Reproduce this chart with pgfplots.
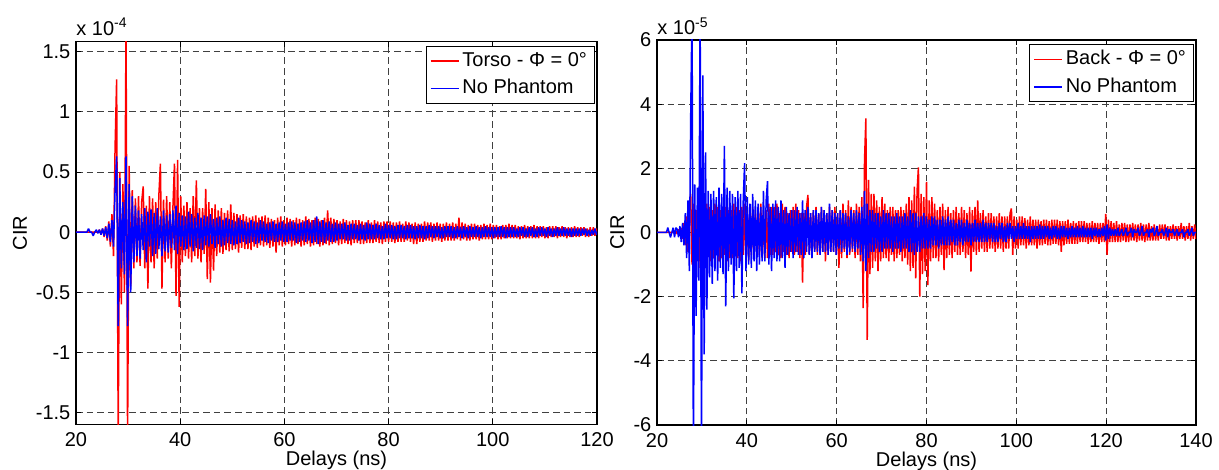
\documentclass[border=0pt]{standalone}
\usepackage{fontspec}
\setmainfont{Liberation Sans}
\usepackage{pgfplots}
\pgfplotsset{compat=1.18}
\usepackage{pgfplotstable}

% values in units of 1e-4 (left) and 1e-5 (right); sampling every 0.3 ns from 20 ns
\pgfplotstableread[row sep=\\]{y\\
0\\0\\0\\0\\0\\0\\0\\0\\0\\0\\
0\\0\\0\\0\\0\\0.02\\-0.02\\0.03\\-0.04\\0.05\\
-0.07\\0.09\\-0.12\\0.15\\-0.2\\0.7\\1.27\\-1.7\\0.5\\-0.6\\
0.4\\-0.5\\1.7\\-1.7\\0.55\\-0.45\\0.35\\-0.3\\0.28\\-0.25\\
0.3\\-0.28\\0.25\\0.38\\-0.3\\0.22\\-0.47\\0.3\\-0.25\\0.28\\
-0.3\\0.25\\-0.22\\0.3\\0.57\\-0.47\\0.27\\-0.25\\0.3\\-0.22\\
0.25\\-0.3\\0.2\\0.57\\-0.53\\0.6\\-0.62\\0.3\\-0.25\\0.22\\
-0.2\\0.25\\-0.22\\0.2\\-0.25\\0.3\\-0.2\\0.43\\-0.22\\0.2\\
-0.25\\0.2\\-0.18\\0.36\\-0.39\\0.25\\-0.42\\0.2\\-0.32\\0.23\\
-0.2\\0.18\\-0.17\\0.2\\-0.18\\0.16\\-0.15\\0.18\\-0.16\\0.23\\
-0.15\\0.16\\-0.14\\0.15\\-0.17\\0.14\\-0.13\\0.15\\-0.14\\0.13\\
-0.14\\0.12\\-0.15\\0.13\\-0.12\\0.14\\-0.13\\0.12\\-0.11\\0.13\\
-0.12\\0.14\\-0.11\\0.12\\-0.13\\0.11\\-0.12\\0.1\\-0.17\\0.12\\
-0.11\\0.13\\-0.12\\0.1\\-0.11\\0.12\\-0.1\\0.11\\-0.12\\0.1\\
-0.11\\0.12\\-0.1\\0.11\\-0.12\\0.1\\-0.11\\0.13\\-0.1\\0.11\\
-0.12\\0.1\\-0.11\\0.12\\-0.1\\0.11\\-0.12\\0.1\\-0.11\\0.12\\
-0.1\\0.18\\-0.11\\0.12\\-0.1\\0.11\\-0.09\\0.1\\-0.11\\0.09\\
-0.1\\0.11\\-0.09\\0.1\\-0.1\\0.09\\-0.11\\0.1\\-0.09\\0.1\\
-0.09\\0.1\\-0.1\\0.09\\-0.1\\0.08\\-0.09\\0.1\\-0.09\\0.08\\
-0.09\\0.1\\-0.08\\0.09\\-0.09\\0.08\\-0.1\\0.09\\-0.08\\0.09\\
-0.08\\0.09\\-0.08\\0.08\\-0.09\\0.08\\-0.08\\0.09\\-0.08\\0.07\\
-0.08\\0.09\\-0.07\\0.08\\-0.08\\0.07\\-0.1\\0.08\\-0.1\\0.07\\
-0.08\\0.07\\-0.08\\0.09\\-0.07\\0.08\\-0.07\\0.08\\-0.08\\0.07\\
-0.07\\0.08\\-0.07\\0.07\\-0.08\\0.07\\-0.07\\0.08\\-0.07\\0.07\\
-0.07\\0.08\\-0.07\\0.07\\-0.06\\0.12\\-0.07\\0.08\\-0.06\\0.07\\
-0.07\\0.06\\-0.07\\0.07\\-0.06\\0.07\\-0.06\\0.06\\-0.07\\0.06\\
-0.06\\0.07\\-0.06\\0.06\\-0.06\\0.07\\-0.06\\0.06\\-0.05\\0.06\\
-0.06\\0.05\\-0.06\\0.06\\-0.05\\0.06\\-0.05\\0.07\\-0.05\\0.06\\
-0.05\\0.06\\-0.05\\0.05\\-0.06\\0.05\\-0.05\\0.06\\-0.05\\0.05\\
-0.05\\0.05\\-0.05\\0.06\\-0.05\\0.05\\-0.05\\0.05\\-0.04\\0.05\\
-0.05\\0.04\\-0.05\\0.05\\-0.04\\0.05\\-0.04\\0.05\\-0.05\\0.04\\
-0.04\\0.05\\-0.04\\0.04\\-0.05\\0.04\\-0.04\\0.04\\-0.04\\0.05\\
-0.04\\0.04\\-0.04\\0.04\\-0.03\\0.04\\-0.04\\0.03\\-0.04\\0.04\\
-0.03\\0.04\\-0.03\\0.03\\-0.02\\
}\leftred

\pgfplotstableread[row sep=\\]{y\\
0\\0\\0\\0\\0\\0\\0\\0\\0.03\\0\\
0\\-0.03\\0\\0.02\\-0.01\\0.02\\-0.02\\0.03\\-0.03\\0.04\\
-0.05\\0.07\\-0.08\\0.1\\-0.12\\0.35\\0.63\\-0.78\\0.45\\-0.3\\
0.25\\-0.35\\0.63\\-0.78\\0.4\\-0.5\\0.3\\-0.25\\0.22\\-0.2\\
0.18\\-0.22\\0.15\\-0.15\\0.2\\-0.25\\0.17\\-0.12\\0.19\\-0.2\\
0.16\\-0.18\\0.2\\-0.14\\0.13\\-0.2\\0.18\\-0.16\\0.14\\-0.17\\
0.15\\-0.13\\0.18\\-0.15\\0.22\\-0.18\\0.16\\-0.12\\0.14\\-0.15\\
0.13\\-0.14\\0.17\\-0.12\\0.15\\-0.16\\0.12\\-0.13\\0.16\\-0.14\\
0.12\\-0.15\\0.14\\-0.11\\0.13\\-0.12\\0.15\\-0.1\\0.11\\-0.13\\
0.12\\-0.1\\0.13\\-0.12\\0.1\\-0.11\\0.12\\-0.09\\0.11\\-0.1\\
0.1\\-0.11\\0.09\\-0.1\\0.12\\-0.09\\0.1\\-0.08\\0.09\\-0.1\\
0.08\\-0.09\\0.1\\-0.08\\0.09\\-0.1\\0.08\\-0.09\\0.1\\-0.07\\
0.09\\-0.08\\0.07\\-0.09\\0.08\\-0.07\\0.09\\-0.08\\0.07\\-0.08\\
0.08\\-0.07\\0.09\\-0.08\\0.07\\-0.08\\0.08\\-0.07\\0.09\\-0.07\\
0.08\\-0.09\\0.07\\-0.08\\0.08\\-0.07\\0.09\\-0.08\\0.1\\-0.07\\
0.08\\-0.09\\0.1\\-0.08\\0.13\\-0.1\\0.09\\-0.08\\0.1\\-0.09\\
0.08\\-0.07\\0.09\\-0.08\\0.07\\-0.08\\0.08\\-0.07\\0.07\\-0.06\\
0.07\\-0.06\\0.08\\-0.07\\0.06\\-0.07\\0.07\\-0.06\\0.07\\-0.06\\
0.06\\-0.07\\0.07\\-0.06\\0.06\\-0.07\\0.08\\-0.06\\0.07\\-0.06\\
0.06\\-0.06\\0.07\\-0.05\\0.06\\-0.06\\0.05\\-0.06\\0.07\\-0.05\\
0.06\\-0.05\\0.06\\-0.06\\0.05\\-0.06\\0.06\\-0.05\\0.06\\-0.05\\
0.05\\-0.06\\0.06\\-0.05\\0.06\\-0.05\\0.05\\-0.06\\0.05\\-0.05\\
0.06\\-0.05\\0.05\\-0.06\\0.05\\-0.05\\0.06\\-0.04\\0.05\\-0.05\\
0.05\\-0.04\\0.05\\-0.05\\0.04\\-0.05\\0.05\\-0.04\\0.05\\-0.04\\
0.05\\-0.05\\0.04\\-0.05\\0.05\\-0.04\\0.04\\-0.05\\0.05\\-0.04\\
0.04\\-0.05\\0.05\\-0.04\\0.04\\-0.04\\0.05\\-0.04\\0.04\\-0.05\\
0.04\\-0.04\\0.05\\-0.04\\0.04\\-0.04\\0.04\\-0.05\\0.04\\-0.04\\
0.04\\-0.04\\0.05\\-0.04\\0.04\\-0.05\\0.04\\-0.04\\0.04\\-0.04\\
0.04\\-0.04\\0.03\\-0.04\\0.04\\-0.03\\0.04\\-0.04\\0.03\\-0.04\\
0.04\\-0.03\\0.04\\-0.04\\0.03\\-0.04\\0.04\\-0.03\\0.04\\-0.03\\
0.03\\-0.04\\0.04\\-0.03\\0.03\\-0.04\\0.03\\-0.03\\0.04\\-0.03\\
0.03\\-0.03\\0.04\\-0.03\\0.03\\-0.03\\0.03\\-0.04\\0.03\\-0.03\\
0.03\\-0.03\\0.03\\-0.03\\0.03\\-0.02\\0.03\\-0.03\\0.02\\-0.03\\
0.02\\-0.02\\0.03\\-0.02\\0.01\\
}\leftblue

\pgfplotstableread[row sep=\\]{y\\
0\\0\\0\\0\\0\\0\\0\\0\\0\\0\\
0\\0\\0\\0\\0.05\\-0.05\\0.1\\-0.1\\0.15\\-0.2\\
0.3\\-0.4\\0.5\\-0.6\\0.8\\1.2\\-1.0\\0.9\\-0.8\\0.7\\
-0.9\\1.0\\-1.1\\0.8\\-0.9\\0.7\\-0.8\\0.9\\-0.7\\0.8\\
-0.9\\0.7\\-0.8\\0.9\\-0.7\\0.8\\-0.9\\0.7\\-0.8\\0.8\\
-0.7\\0.8\\-0.9\\0.7\\-0.8\\0.7\\-0.8\\0.9\\-0.7\\0.8\\
-0.8\\0.7\\-0.9\\0.8\\-0.7\\0.9\\-0.8\\0.7\\-0.9\\0.8\\
-0.7\\0.8\\-0.8\\0.7\\-0.6\\0.8\\-0.7\\0.9\\-0.8\\0.7\\
-0.8\\0.7\\-0.8\\0.9\\-0.7\\0.8\\-0.7\\0.8\\-0.6\\0.9\\
-0.7\\0.6\\-0.8\\0.9\\-0.6\\0.8\\-0.7\\0.6\\-0.8\\0.7\\
-0.6\\0.8\\-0.7\\0.9\\-0.6\\0.7\\-0.8\\0.6\\-1.56\\0.6\\
-0.7\\0.8\\1.17\\-0.7\\0.6\\-0.8\\0.7\\-0.6\\0.8\\-0.7\\
0.6\\-0.7\\0.8\\-0.6\\0.7\\-0.9\\0.6\\-0.7\\0.8\\-0.6\\
0.7\\-0.6\\0.8\\-0.7\\0.6\\-1.1\\0.7\\-0.8\\0.9\\-0.6\\
0.7\\-0.8\\1.0\\-0.7\\0.8\\-0.6\\0.7\\-0.8\\0.9\\-0.7\\
0.8\\-0.9\\1.1\\-2.36\\2.24\\3.56\\-3.35\\1.64\\-1.3\\1.2\\
-1.1\\1.2\\-0.9\\1.0\\-1.2\\0.8\\-0.9\\1.1\\-0.8\\0.9\\
-0.8\\0.7\\-0.9\\0.8\\-0.7\\0.8\\-0.9\\0.7\\-0.8\\0.7\\
-0.7\\0.8\\-0.9\\0.7\\-0.8\\0.9\\-1.0\\1.1\\-1.2\\1.0\\
-1.1\\1.43\\-1.43\\1.3\\2.03\\-2.0\\1.2\\-1.3\\1.1\\-1.2\\
1.58\\-1.64\\1.0\\-0.9\\1.1\\-0.8\\0.9\\-0.8\\0.7\\-0.9\\
0.8\\-0.7\\0.9\\-1.17\\0.7\\-0.8\\0.8\\-0.7\\0.6\\-0.8\\
0.7\\-0.6\\0.8\\-0.7\\0.6\\-0.7\\0.8\\-0.6\\0.7\\-0.8\\
0.6\\-0.7\\0.8\\-1.22\\0.7\\-0.6\\0.8\\-0.7\\1.0\\-0.6\\
0.6\\-0.5\\0.7\\-0.6\\0.5\\-0.6\\0.6\\-0.5\\0.6\\-0.5\\
0.5\\-0.6\\0.5\\-0.5\\0.6\\-0.5\\0.5\\-0.6\\0.5\\-0.5\\
0.5\\-0.5\\0.6\\0.75\\-0.7\\0.5\\-0.5\\0.4\\-0.5\\0.5\\
-0.4\\0.5\\-0.4\\0.45\\-0.5\\0.4\\-0.4\\0.5\\-0.4\\0.4\\
-0.4\\0.4\\-0.5\\0.4\\-0.4\\0.35\\-0.4\\0.4\\-0.35\\0.4\\
-0.4\\0.35\\-0.4\\0.4\\-0.35\\0.4\\-0.35\\0.4\\-0.4\\0.35\\
-0.6\\0.35\\-0.4\\0.35\\-0.35\\0.4\\-0.35\\0.3\\-0.35\\0.35\\
-0.35\\0.3\\-0.35\\0.35\\-0.3\\0.35\\-0.3\\0.35\\-0.3\\0.3\\
-0.35\\0.3\\-0.3\\0.35\\-0.3\\0.3\\-0.3\\0.3\\-0.35\\0.3\\
-0.3\\0.3\\-0.3\\0.58\\-0.7\\0.4\\-0.3\\0.35\\-0.3\\0.3\\
-0.3\\0.35\\-0.3\\0.25\\-0.3\\0.3\\-0.25\\0.3\\-0.3\\0.25\\
-0.3\\0.25\\-0.25\\0.3\\-0.25\\0.25\\-0.3\\0.25\\-0.25\\0.3\\
-0.25\\0.25\\-0.3\\0.25\\-0.25\\0.3\\-0.25\\0.2\\-0.25\\0.25\\
-0.25\\0.2\\-0.25\\0.25\\-0.2\\0.25\\-0.2\\0.25\\-0.25\\0.2\\
-0.25\\0.2\\-0.2\\0.25\\-0.2\\0.2\\-0.25\\0.2\\-0.2\\0.3\\
-0.2\\0.2\\-0.25\\0.2\\-0.2\\0.3\\-0.25\\0.2\\-0.2\\0.25\\
-0.2\\
}\rightred

\pgfplotstableread[row sep=\\]{y\\
0\\0\\0\\0\\0\\0\\0\\0\\0.15\\0\\
-0.15\\0\\0.15\\-0.15\\0.15\\0.1\\-0.15\\0.2\\-0.3\\0.3\\
-0.4\\0.6\\-0.8\\1.0\\-1.2\\3.6\\7\\-7\\1.5\\-2.6\\
1.4\\-1.5\\7\\-7\\4.9\\-3.8\\2.5\\-2.4\\1.3\\-1.4\\
1.2\\-1.6\\1.3\\-1.2\\1.1\\-1.5\\1.4\\-1.1\\1.2\\-1.3\\
2.7\\-2.3\\1.4\\-1.2\\1.3\\-1.0\\1.2\\-2.05\\1.1\\-1.2\\
1.3\\-1.1\\1.2\\-1.9\\1.0\\2.16\\-1.2\\1.1\\-1.0\\0.9\\
-1.1\\1.2\\-0.9\\1.0\\-1.2\\0.9\\-1.0\\0.8\\-0.9\\1.3\\
-0.9\\1.0\\1.6\\-1.0\\0.8\\-1.2\\0.9\\-0.8\\1.0\\-0.9\\
0.8\\-0.9\\1.0\\-0.8\\0.7\\-1.1\\0.8\\-0.7\\0.6\\-0.6\\
0.7\\-0.8\\0.7\\-0.6\\0.8\\-0.7\\0.6\\-0.7\\1.0\\-0.8\\
0.7\\-0.6\\0.8\\-0.7\\0.6\\-0.8\\0.7\\-0.6\\0.7\\-0.6\\
0.6\\-0.7\\0.8\\-0.6\\0.7\\-0.6\\0.6\\-0.7\\0.9\\-0.6\\
0.7\\-0.6\\0.6\\-0.7\\0.6\\-0.5\\0.7\\-0.6\\0.6\\-0.5\\
0.6\\-0.7\\0.5\\-0.6\\0.7\\-0.5\\0.6\\-0.6\\0.7\\-0.5\\
0.6\\-0.7\\0.8\\-0.9\\1.3\\-1.2\\0.9\\-0.8\\0.7\\-0.6\\
0.7\\-0.6\\0.6\\-0.5\\0.6\\-0.6\\0.5\\-0.6\\0.7\\-0.5\\
0.6\\-0.5\\0.6\\-0.5\\0.5\\-0.6\\0.5\\-0.5\\0.6\\-0.5\\
0.5\\-0.6\\0.5\\-0.5\\0.6\\-0.5\\0.5\\-0.6\\0.7\\-0.6\\
0.6\\-0.7\\0.6\\-0.6\\0.5\\-0.6\\0.5\\-0.5\\0.6\\-0.5\\
0.5\\-0.5\\0.4\\-0.5\\0.5\\-0.4\\0.5\\-0.4\\0.4\\-0.5\\
0.4\\-0.4\\0.5\\-0.4\\0.4\\-0.4\\0.5\\-0.4\\0.4\\-0.3\\
0.4\\-0.4\\0.3\\-0.4\\0.4\\-0.3\\0.4\\-0.4\\0.3\\-0.3\\
0.4\\-0.3\\0.3\\-0.4\\0.3\\-0.3\\0.4\\-0.3\\0.3\\-0.3\\
0.3\\-0.3\\0.4\\-0.3\\0.3\\-0.3\\0.3\\-0.2\\0.3\\-0.3\\
0.3\\-0.3\\0.2\\-0.3\\0.3\\-0.2\\0.3\\-0.3\\0.2\\-0.3\\
0.3\\-0.2\\0.3\\-0.2\\0.2\\-0.3\\0.2\\-0.2\\0.3\\-0.2\\
0.2\\-0.2\\0.3\\-0.2\\0.2\\-0.2\\0.2\\-0.3\\0.2\\-0.2\\
0.2\\-0.2\\0.2\\-0.2\\0.25\\-0.2\\0.2\\-0.2\\0.2\\-0.15\\
0.2\\-0.2\\0.15\\-0.2\\0.2\\-0.15\\0.2\\-0.2\\0.15\\-0.2\\
0.2\\-0.15\\0.2\\-0.15\\0.15\\-0.2\\0.15\\-0.15\\0.2\\-0.15\\
0.15\\-0.15\\0.2\\-0.15\\0.15\\-0.15\\0.2\\-0.15\\0.15\\-0.15\\
0.15\\-0.15\\0.15\\-0.2\\0.15\\-0.1\\0.15\\-0.15\\0.1\\-0.15\\
0.15\\-0.1\\0.2\\-0.25\\0.25\\-0.2\\0.15\\-0.1\\0.1\\-0.1\\
0.1\\-0.1\\0.15\\-0.1\\0\\0.1\\-0.1\\0\\0.15\\-0.1\\
0\\0\\0.15\\-0.15\\0.1\\0\\0\\0.15\\-0.1\\0\\
0.2\\-0.1\\0\\0\\0.1\\-0.15\\0.1\\0\\0.15\\-0.1\\
0\\0.2\\-0.1\\0\\0\\0.1\\-0.1\\0\\0.15\\-0.15\\
0.1\\0\\0\\0.1\\-0.1\\0\\0.1\\-0.1\\0\\0\\
0.1\\-0.15\\0\\0\\0.1\\-0.1\\0\\0.15\\-0.1\\0\\
0\\
}\rightblue

\pgfplotsset{
  cir/.style={
    scale only axis,
    anchor=north west,
    axis line style={line width=0.6pt},
    tick align=inside,
    major tick length=2.5pt,
    every tick/.style={black,line width=0.5pt},
    grid=major,
    major grid style={black!75, line width=0.5pt, dash pattern=on 3.3pt off 2pt},
    /pgf/number format/assume math mode=true,
    tick label style={font=\fontsize{10}{12}\selectfont},
    xticklabel style={yshift=-0.6pt},
    yticklabel style={xshift=0.7pt},
    every axis x label/.style={at={(axis description cs:0.5,0)},anchor=center,yshift=-18.2pt,font=\fontsize{10}{12}\selectfont},
    xlabel={Delays (ns)},
    ylabel={CIR},
    legend cell align=left,
    legend style={at={(0.995,0.989)}, anchor=north east, draw=black,
      inner xsep=2pt, inner ysep=0.5pt, row sep=0pt,
      nodes={inner xsep=1.5pt, inner ysep=2.4pt, text height=7pt, text depth=2pt, font=\fontsize{10}{12}\selectfont}},
    legend image code/.code={\draw[#1,line width=0.7pt,line cap=butt] (0pt,0pt) -- (14pt,0pt);},
  },
}

\begin{document}
\begin{tikzpicture}[font=\fontsize{10}{12}\selectfont]
\path[use as bounding box] (0pt,0pt) rectangle (609.5pt,-235pt);

\begin{axis}[cir, name=L,
  at={(38pt,-20.85pt)}, width=260.5pt, height=191.3pt,
  xmin=20, xmax=120, ymin=-1.597, ymax=1.583,
  xtick={20,40,...,120},
  ytick={-1.5,-1,-0.5,0,0.5,1,1.5},
  every axis y label/.style={at={(axis description cs:-0.1075,0.5)},rotate=90,anchor=center,font=\fontsize{10}{12}\selectfont},
]
\addplot[red, line width=0.75pt, line join=bevel] table[x expr=20+0.3*\coordindex, y=y]{\leftred};
\addlegendentry{Torso - Φ = 0°}
\addplot[blue, line width=0.75pt, line join=bevel] table[x expr=20+0.3*\coordindex, y=y]{\leftblue};
\addlegendentry{No Phantom}
\end{axis}
\node[anchor=base west, inner sep=0pt] at ([yshift=3.3pt]L.north west) {x 10\textsuperscript{-4}};

\begin{axis}[cir, name=R,
  at={(328.5pt,-20pt)}, width=269.5pt, height=192.5pt,
  xmin=20, xmax=140, ymin=-6, ymax=6,
  xtick={20,40,...,140},
  ytick={-6,-4,...,6},
  every axis y label/.style={at={(axis description cs:-0.074,0.5)},rotate=90,anchor=center,font=\fontsize{10}{12}\selectfont},
]
\addplot[red, line width=0.75pt, line join=bevel] table[x expr=20+0.3*\coordindex, y=y]{\rightred};
\addlegendentry{Back - Φ = 0°}
\addplot[blue, line width=0.75pt, line join=bevel] table[x expr=20+0.3*\coordindex, y=y]{\rightblue};
\addlegendentry{No Phantom}
\end{axis}
\node[anchor=base west, inner sep=0pt] at ([yshift=2.5pt]R.north west) {x 10\textsuperscript{-5}};
\end{tikzpicture}
\end{document}
